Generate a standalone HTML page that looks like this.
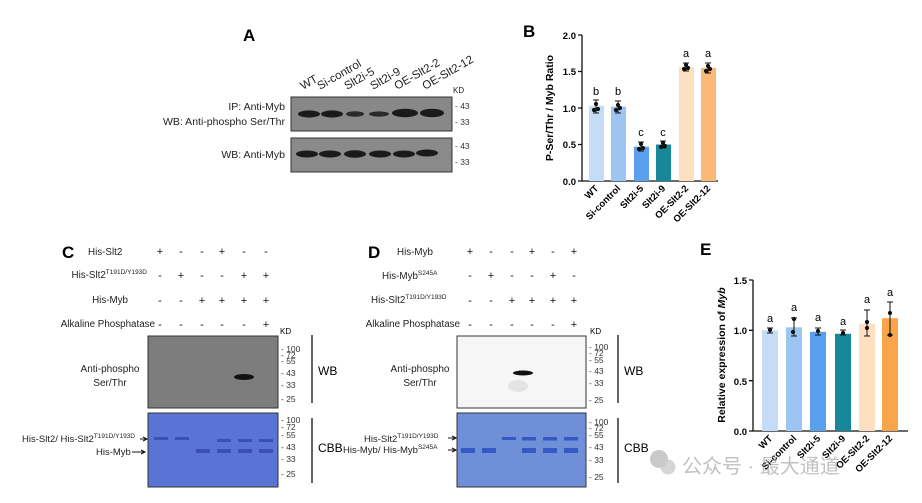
<!DOCTYPE html><html><head><meta charset="utf-8"><style>body{margin:0;background:#fff}svg{display:block;font-family:"Liberation Sans",Arial,sans-serif}</style></head><body>
<svg width="922" height="503" viewBox="0 0 922 503" xmlns="http://www.w3.org/2000/svg">
<!-- Panel A -->
<text x="243" y="41" font-size="17" font-weight="bold">A</text>
<g font-size="11.5" fill="#222">
<text transform="translate(303,90) rotate(-30)">WT</text>
<text transform="translate(320,90) rotate(-30)">Si-control</text>
<text transform="translate(347,90) rotate(-30)">Slt2i-5</text>
<text transform="translate(373,90) rotate(-30)">Slt2i-9</text>
<text transform="translate(397,90) rotate(-30)">OE-Slt2-2</text>
<text transform="translate(425,90) rotate(-30)">OE-Slt2-12</text>
</g>
<g font-size="10.5" fill="#222">
<text x="453" y="93" font-size="8">KD</text>
<text x="285" y="110" text-anchor="end">IP: Anti-Myb</text>
<text x="285" y="125" text-anchor="end">WB: Anti-phospho Ser/Thr</text>
<text x="285" y="158" text-anchor="end">WB: Anti-Myb</text>
</g>
<rect x="291" y="97" width="161" height="34" fill="#888" stroke="#333"/>
<rect x="291" y="138" width="161" height="34" fill="#8a8a8a" stroke="#333"/>
<g fill="#1a1a1a">
<ellipse cx="309" cy="114" rx="11" ry="3.6"/><ellipse cx="332" cy="114" rx="11" ry="3.6"/><ellipse cx="355" cy="114" rx="9" ry="2.8" fill="#2a2a2a"/><ellipse cx="379" cy="114" rx="10" ry="2.6" fill="#2a2a2a"/><ellipse cx="405" cy="113" rx="13" ry="4.2"/><ellipse cx="432" cy="113" rx="12" ry="4.2"/>
<ellipse cx="307" cy="154" rx="11" ry="3.5"/><ellipse cx="330" cy="154" rx="11" ry="3.5"/><ellipse cx="355" cy="154" rx="11" ry="3.7"/><ellipse cx="380" cy="154" rx="11" ry="3.5"/><ellipse cx="404" cy="154" rx="11" ry="3.5"/><ellipse cx="427" cy="153" rx="11" ry="3.5"/>
</g>
<g font-size="8.5" fill="#333"><text x="455" y="109">- 43</text><text x="455" y="125">- 33</text><text x="455" y="149">- 43</text><text x="455" y="165">- 33</text></g>

<!-- Panel B -->
<text x="523" y="37" font-size="17" font-weight="bold">B</text>
<g fill="none" stroke="#111" stroke-width="1.3"><path d="M582,35V181H718"/>
<path d="M578,35H582M578,71.5H582M578,108H582M578,144.5H582M578,181H582"/></g>
<g font-size="9.5" font-weight="bold" text-anchor="end"><text x="576" y="39">2.0</text><text x="576" y="75">1.5</text><text x="576" y="112">1.0</text><text x="576" y="148">0.5</text><text x="576" y="185">0.0</text></g>
<text transform="translate(553,108) rotate(-90)" font-size="10.5" font-weight="bold" text-anchor="middle">P-Ser/Thr / Myb Ratio</text>
<g>
<rect x="589" y="105.8" width="15" height="75.2" fill="#c5dcf7"/>
<rect x="611" y="106.5" width="15" height="74.5" fill="#9cc5f2"/>
<rect x="634" y="146.7" width="15" height="34.3" fill="#5aa0ee"/>
<rect x="656" y="144.5" width="15" height="36.5" fill="#16889a"/>
<rect x="679" y="67.1" width="15" height="113.9" fill="#fde0c0"/>
<rect x="701" y="67.8" width="15" height="113.2" fill="#fbb978"/>
</g>
<g stroke="#111" stroke-width="1" fill="#111">
<path d="M596,100V113M593,100H599M593,113H599"/><circle cx="596" cy="104" r="1.6"/><circle cx="594" cy="110" r="1.6"/><circle cx="598" cy="109" r="1.6"/>
<path d="M618,101V113M615,101H621M615,113H621"/><circle cx="618" cy="105" r="1.6"/><circle cx="616" cy="110" r="1.6"/><circle cx="620" cy="108" r="1.6"/>
<path d="M641,142V151M638,142H644M638,151H644"/><circle cx="641" cy="144" r="1.6"/><circle cx="639" cy="149" r="1.6"/><circle cx="643" cy="148" r="1.6"/>
<path d="M663,141V148M660,141H666M660,148H666"/><circle cx="663" cy="143" r="1.6"/><circle cx="661" cy="147" r="1.6"/><circle cx="665" cy="146" r="1.6"/>
<path d="M686,63V71M683,63H689M683,71H689"/><circle cx="686" cy="65" r="1.6"/><circle cx="684" cy="69" r="1.6"/><circle cx="688" cy="68" r="1.6"/>
<path d="M708,63V73M705,63H711M705,73H711"/><circle cx="708" cy="66" r="1.6"/><circle cx="706" cy="71" r="1.6"/><circle cx="710" cy="69" r="1.6"/>
</g>
<g font-size="11" text-anchor="middle"><text x="596" y="95">b</text><text x="618" y="95">b</text><text x="641" y="136">c</text><text x="663" y="136">c</text><text x="686" y="57">a</text><text x="708" y="57">a</text></g>
<g font-size="9.5" font-weight="bold" text-anchor="end">
<text transform="translate(599,189) rotate(-45)">WT</text>
<text transform="translate(621,189) rotate(-45)">Si-control</text>
<text transform="translate(644,189) rotate(-45)">Slt2i-5</text>
<text transform="translate(666,189) rotate(-45)">Slt2i-9</text>
<text transform="translate(689,189) rotate(-45)">OE-Slt2-2</text>
<text transform="translate(711,189) rotate(-45)">OE-Slt2-12</text>
</g>

<!-- Panel C -->
<text x="62" y="258" font-size="17" font-weight="bold">C</text>
<g font-size="9.8" fill="#222">
<text x="88" y="255">His-Slt2</text>
<text x="147" y="278" text-anchor="end">His-Slt2<tspan font-size="6.5" dy="-4">T191D/Y193D</tspan></text>
<text x="128" y="303" text-anchor="end">His-Myb</text>
<text x="155" y="327" text-anchor="end">Alkaline Phosphatase</text>
</g>
<g font-size="11" text-anchor="middle" fill="#111">
<text x="160" y="255">+</text><text x="181" y="255">-</text><text x="202" y="255">-</text><text x="222" y="255">+</text><text x="244" y="255">-</text><text x="266" y="255">-</text>
<text x="160" y="279">-</text><text x="181" y="279">+</text><text x="202" y="279">-</text><text x="222" y="279">-</text><text x="244" y="279">+</text><text x="266" y="279">+</text>
<text x="160" y="304">-</text><text x="181" y="304">-</text><text x="202" y="304">+</text><text x="222" y="304">+</text><text x="244" y="304">+</text><text x="266" y="304">+</text>
<text x="160" y="328">-</text><text x="181" y="328">-</text><text x="202" y="328">-</text><text x="222" y="328">-</text><text x="244" y="328">-</text><text x="266" y="328">+</text>
</g>
<text x="280" y="334" font-size="8">KD</text>
<rect x="148" y="336" width="130" height="72" fill="#7d7d7d" stroke="#333"/>
<ellipse cx="244" cy="377" rx="10" ry="3" fill="#111"/>
<rect x="148" y="413" width="130" height="74" fill="#5a74d6" stroke="#333"/>
<g fill="#3a50b5"><rect x="154" y="437" width="14" height="3"/><rect x="175" y="437" width="14" height="3"/><rect x="217" y="439" width="14" height="3"/><rect x="238" y="439" width="14" height="3"/><rect x="259" y="439" width="14" height="3"/>
<rect x="196" y="449" width="14" height="4"/><rect x="217" y="449" width="14" height="4"/><rect x="238" y="449" width="14" height="4"/><rect x="259" y="449" width="14" height="4"/></g>
<g font-size="8.5" fill="#333">
<text x="281" y="352">- 100</text><text x="281" y="358">- 72</text><text x="281" y="364">- 55</text><text x="281" y="376">- 43</text><text x="281" y="388">- 33</text><text x="281" y="402">- 25</text>
<text x="281" y="423">- 100</text><text x="281" y="430">- 72</text><text x="281" y="438">- 55</text><text x="281" y="450">- 43</text><text x="281" y="462">- 33</text><text x="281" y="477">- 25</text>
</g>
<path d="M312,335V403M312,418V483" stroke="#111" stroke-width="1.3"/>
<text x="318" y="375" font-size="12">WB</text><text x="318" y="452" font-size="12">CBB</text>
<g font-size="10" fill="#222" text-anchor="middle"><text x="110" y="372">Anti-phospho</text><text x="110" y="386">Ser/Thr</text></g>
<g font-size="9.5" fill="#222">
<text x="22" y="442">His-Slt2/ His-Slt2<tspan font-size="6.5" dy="-4">T191D/Y193D</tspan></text>
<text x="96" y="455">His-Myb</text>
</g>
<path d="M140,439H147M143,437L147,439L143,441M132,452H145M141,450L145,452L141,454" stroke="#111" fill="none"/>

<!-- Panel D -->
<text x="368" y="258" font-size="17" font-weight="bold">D</text>
<g font-size="9.8" fill="#222">
<text x="397" y="255">His-Myb</text>
<text x="382" y="279">His-Myb<tspan font-size="6.5" dy="-4">S245A</tspan></text>
<text x="371" y="303">His-Slt2<tspan font-size="6.5" dy="-4">T191D/Y193D</tspan></text>
<text x="460" y="327" text-anchor="end">Alkaline Phosphatase</text>
</g>
<g font-size="11" text-anchor="middle" fill="#111">
<text x="470" y="255">+</text><text x="491" y="255">-</text><text x="512" y="255">-</text><text x="532" y="255">+</text><text x="553" y="255">-</text><text x="574" y="255">+</text>
<text x="470" y="279">-</text><text x="491" y="279">+</text><text x="512" y="279">-</text><text x="532" y="279">-</text><text x="553" y="279">+</text><text x="574" y="279">-</text>
<text x="470" y="304">-</text><text x="491" y="304">-</text><text x="512" y="304">+</text><text x="532" y="304">+</text><text x="553" y="304">+</text><text x="574" y="304">+</text>
<text x="470" y="328">-</text><text x="491" y="328">-</text><text x="512" y="328">-</text><text x="532" y="328">-</text><text x="553" y="328">-</text><text x="574" y="328">+</text>
</g>
<text x="590" y="334" font-size="8">KD</text>
<rect x="457" y="336" width="129" height="72" fill="#f6f6f6" stroke="#333"/>
<ellipse cx="518" cy="386" rx="10" ry="6" fill="#ddd" opacity="0.7"/>
<ellipse cx="523" cy="373" rx="10" ry="2.5" fill="#111"/>
<rect x="457" y="413" width="129" height="74" fill="#6f8fd8" stroke="#333"/>
<g fill="#3558c4"><rect x="502" y="437" width="14" height="3"/><rect x="522" y="437" width="14" height="3.5"/><rect x="543" y="437" width="14" height="3.5"/><rect x="564" y="437" width="14" height="3.5"/>
<rect x="461" y="448" width="14" height="5"/><rect x="482" y="448" width="14" height="5"/><rect x="522" y="448" width="14" height="5"/><rect x="543" y="448" width="14" height="5"/><rect x="564" y="448" width="14" height="5"/></g>
<g font-size="8.5" fill="#333">
<text x="589" y="350">- 100</text><text x="589" y="356">- 72</text><text x="589" y="363">- 55</text><text x="589" y="374">- 43</text><text x="589" y="386">- 33</text><text x="589" y="403">- 25</text>
<text x="589" y="425">- 100</text><text x="589" y="431">- 72</text><text x="589" y="438">- 55</text><text x="589" y="450">- 43</text><text x="589" y="463">- 33</text><text x="589" y="480">- 25</text>
</g>
<path d="M618,335V403M618,418V483" stroke="#111" stroke-width="1.3"/>
<text x="624" y="375" font-size="12">WB</text><text x="624" y="452" font-size="12">CBB</text>
<g font-size="10" fill="#222" text-anchor="middle"><text x="420" y="372">Anti-phospho</text><text x="420" y="386">Ser/Thr</text></g>
<g font-size="9.5" fill="#222">
<text x="364" y="442">His-Slt2<tspan font-size="6.5" dy="-4">T191D/Y193D</tspan></text>
<text x="343" y="453">His-Myb/ His-Myb<tspan font-size="6.5" dy="-4">S245A</tspan></text>
</g>
<path d="M448,438H456M452,436L456,438L452,440M448,450H456M452,448L456,450L452,452" stroke="#111" fill="none"/>

<!-- Panel E -->
<text x="700" y="255" font-size="17" font-weight="bold">E</text>
<g fill="none" stroke="#111" stroke-width="1.3"><path d="M753,280V431H908"/>
<path d="M749,280H753M749,330.3H753M749,380.7H753M749,431H753"/></g>
<g font-size="9.5" font-weight="bold" text-anchor="end"><text x="747" y="284">1.5</text><text x="747" y="334">1.0</text><text x="747" y="385">0.5</text><text x="747" y="435">0.0</text></g>
<text transform="translate(725,355) rotate(-90)" font-size="10.5" font-weight="bold" text-anchor="middle">Relative expression of <tspan font-style="italic">Myb</tspan></text>
<g>
<rect x="762" y="330.3" width="16" height="100.7" fill="#c5dcf7"/>
<rect x="786" y="327.3" width="16" height="103.7" fill="#9cc5f2"/>
<rect x="810" y="331.8" width="16" height="99.2" fill="#5aa0ee"/>
<rect x="835" y="333.8" width="16" height="97.2" fill="#16889a"/>
<rect x="859" y="323.7" width="16" height="107.3" fill="#fde0c0"/>
<rect x="882" y="318.2" width="16" height="112.8" fill="#f9a54a"/>
</g>
<g stroke="#111" stroke-width="1" fill="#111">
<path d="M770,328V333M767,328H773M767,333H773"/><circle cx="770" cy="330" r="1.6"/>
<path d="M794,318V336M791,318H797M791,336H797"/><circle cx="794" cy="319" r="1.6"/><circle cx="793" cy="332" r="1.6"/>
<path d="M818,328V335M815,328H821M815,335H821"/><circle cx="818" cy="331" r="1.6"/>
<path d="M843,330V335M840,330H846M840,335H846"/><circle cx="843" cy="333" r="1.6"/>
<path d="M867,310V336M864,310H870M864,336H870"/><circle cx="867" cy="322" r="1.6"/><circle cx="867" cy="328" r="1.6"/>
<path d="M890,302V335M887,302H893M887,335H893"/><circle cx="890" cy="313" r="1.6"/><circle cx="890" cy="335" r="1.6"/>
</g>
<g font-size="11" text-anchor="middle"><text x="770" y="322">a</text><text x="794" y="311">a</text><text x="818" y="321">a</text><text x="843" y="325">a</text><text x="867" y="303">a</text><text x="890" y="296">a</text></g>
<g font-size="9.5" font-weight="bold" text-anchor="end">
<text transform="translate(773,439) rotate(-45)">WT</text>
<text transform="translate(797,439) rotate(-45)">Si-control</text>
<text transform="translate(821,439) rotate(-45)">Slt2i-5</text>
<text transform="translate(846,439) rotate(-45)">Slt2i-9</text>
<text transform="translate(870,439) rotate(-45)">OE-Slt2-2</text>
<text transform="translate(893,439) rotate(-45)">OE-Slt2-12</text>
</g>
<!-- watermark -->
<circle cx="659" cy="459" r="9" fill="#bbb" opacity="0.8"/><circle cx="668" cy="467" r="7.5" fill="#ccc" opacity="0.8"/>
<text x="682" y="473" font-size="20" fill="#999" opacity="0.6" font-family="'Liberation Sans','Noto Sans CJK SC',sans-serif">公众号 · 最大通道</text>
</svg>
</body></html>
